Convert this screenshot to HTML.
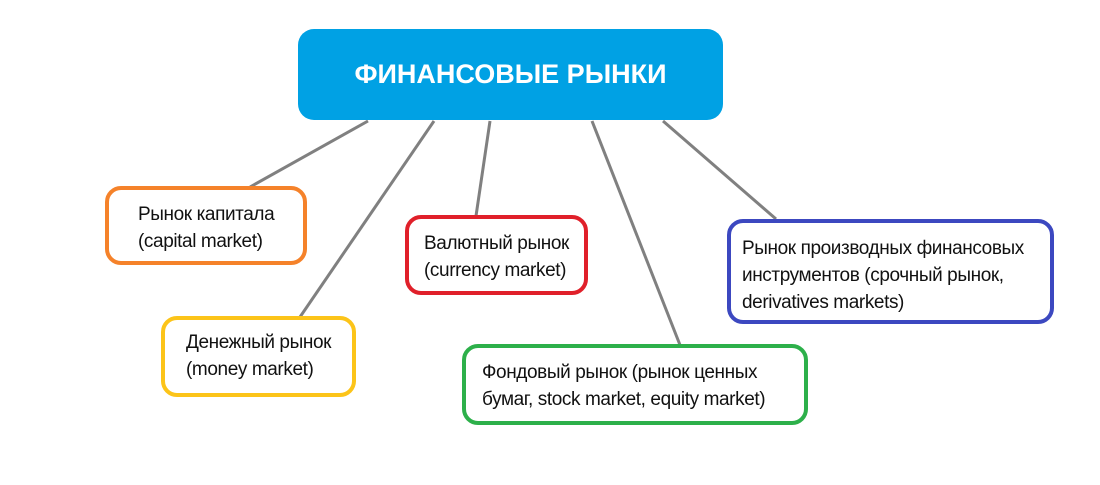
<!DOCTYPE html>
<html><head><meta charset="utf-8"><style>
body{margin:0;background:#fff;width:1100px;height:485px;position:relative;overflow:hidden;font-family:"Liberation Sans",sans-serif}
.b{position:absolute;box-sizing:border-box;border:4px solid;border-radius:16px;background:#fff;font-size:19px;letter-spacing:-0.4px;line-height:27px;color:#111;white-space:nowrap}
.b div{position:absolute}
</style></head><body>
<svg width="1100" height="485" style="position:absolute;left:0;top:0">
<g stroke="#808080" stroke-width="3">
<line x1="368" y1="121" x2="250" y2="187"/>
<line x1="434" y1="121" x2="300" y2="317"/>
<line x1="490" y1="121" x2="476" y2="216"/>
<line x1="592" y1="121" x2="680" y2="345"/>
<line x1="663" y1="121" x2="776" y2="219"/>
</g></svg>
<div style="position:absolute;left:298px;top:29px;width:425px;height:91px;background:#00a1e4;border-radius:16px;color:#fff;font-weight:bold;font-size:27px;line-height:91px;text-align:center">ФИНАНСОВЫЕ РЫНКИ</div>
<div class="b" style="left:105px;top:186px;width:202px;height:79px;border-color:#f5822a"><div style="left:29px;top:11px">Рынок капитала<br>(capital market)</div></div>
<div class="b" style="left:405px;top:215px;width:183px;height:80px;border-color:#e0202a"><div style="left:15px;top:11px">Валютный рынок<br>(currency market)</div></div>
<div class="b" style="left:161px;top:316px;width:195px;height:81px;border-color:#fcc419"><div style="left:21px;top:9px">Денежный рынок<br>(money market)</div></div>
<div class="b" style="left:462px;top:344px;width:346px;height:81px;border-color:#2db04a"><div style="left:16px;top:11px">Фондовый рынок (рынок ценных<br>бумаг, stock market, equity market)</div></div>
<div class="b" style="left:727px;top:219px;width:327px;height:105px;border-color:#3c48c0"><div style="left:11px;top:12px">Рынок производных финансовых<br>инструментов (срочный рынок,<br>derivatives markets)</div></div>
</body></html>
